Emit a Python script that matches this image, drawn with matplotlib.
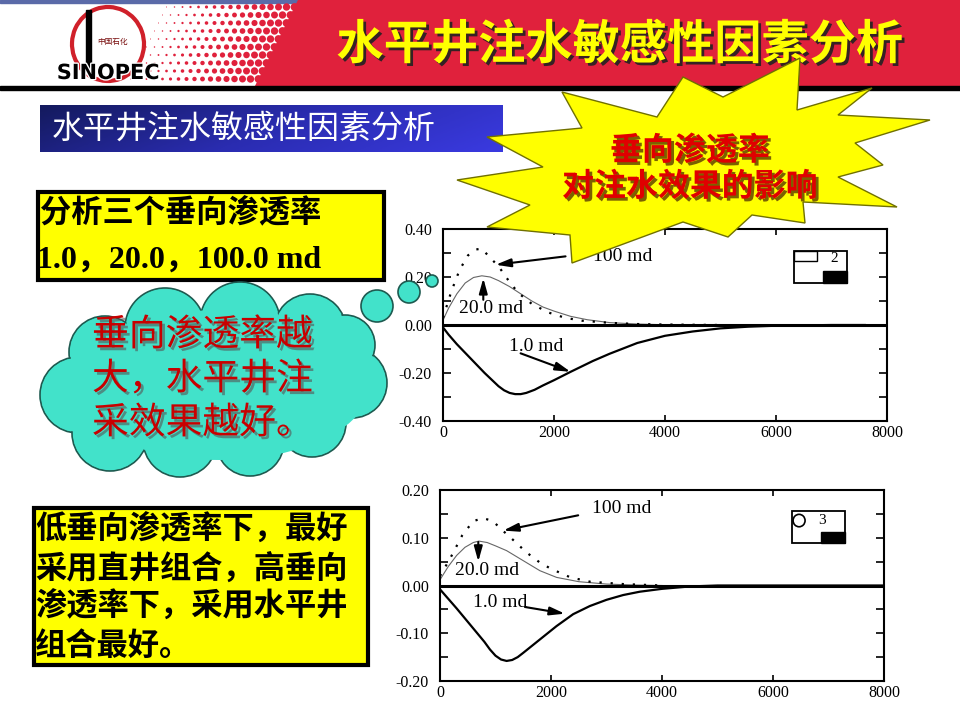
import numpy as np
import matplotlib.pyplot as plt
from matplotlib import patches, patheffects
from matplotlib.colors import LinearSegmentedColormap

plt.rcParams['font.family'] = ['Noto Sans CJK SC', 'DejaVu Sans']

# ---- données (x = temps/jours, y = variation) ----
x_ticks = [0, 2000, 4000, 6000, 8000]
x_labels = ['0', '2000', '4000', '6000', '8000']

# graphique 1 (cas 2)
g1_yticks = [-0.40, -0.20, 0.00, 0.20, 0.40]
g1_ylabels = ['-0.40', '-0.20', '0.00', '0.20', '0.40']
g1_yminor = [-0.3, -0.1, 0.1, 0.3]
g1_x_1md = [0, 100, 250, 500, 750, 1000, 1100, 1200, 1300, 1400, 1500, 1650, 1800,
            2000, 2300, 2700, 3000, 3500, 4000, 4500, 5000, 5500, 6000, 7000, 7600]
g1_y_1md = [-0.01, -0.04, -0.08, -0.14, -0.20, -0.255, -0.272, -0.283, -0.288, -0.288,
            -0.283, -0.27, -0.252, -0.23, -0.195, -0.15, -0.12, -0.075, -0.045, -0.027,
            -0.014, -0.007, -0.003, 0.0, 0.0]
g1_x_20md = [0, 100, 250, 400, 550, 700, 850, 1000, 1200, 1400, 1600, 1800, 2000,
             2300, 2600, 3000, 3500, 4000, 5000]
g1_y_20md = [0.02, 0.07, 0.13, 0.175, 0.198, 0.205, 0.200, 0.185, 0.16, 0.13, 0.10,
             0.075, 0.058, 0.036, 0.022, 0.010, 0.004, 0.001, 0.0]
g1_x_100md = [0, 150, 300, 450, 600, 700, 850, 1000, 1150, 1350, 1600, 1900, 2200,
              2500, 3000, 3500, 4000, 5000]
g1_y_100md = [0.03, 0.14, 0.23, 0.29, 0.315, 0.318, 0.28, 0.245, 0.195, 0.135, 0.088,
              0.052, 0.03, 0.018, 0.009, 0.004, 0.002, 0.0]

# graphique 2 (cas 3)
g2_yticks = [-0.20, -0.10, 0.00, 0.10, 0.20]
g2_ylabels = ['-0.20', '-0.10', '0.00', '0.10', '0.20']
g2_yminor = [-0.15, -0.05, 0.05, 0.15]
g2_x_1md = [0, 300, 600, 800, 900, 1000, 1100, 1200, 1300, 1400, 1500, 1800, 2100,
            2400, 2700, 3000, 3300, 3600, 4000, 4500, 5000, 6000, 8000]
g2_y_1md = [-0.008, -0.048, -0.09, -0.118, -0.134, -0.147, -0.155, -0.158, -0.156,
            -0.150, -0.141, -0.113, -0.085, -0.060, -0.043, -0.030, -0.020, -0.013,
            -0.007, -0.002, 0.0, 0.0, 0.0]
g2_x_20md = [0, 150, 300, 450, 600, 700, 850, 1000, 1200, 1500, 1800, 2100, 2500,
             3000, 3500, 4000]
g2_y_20md = [0.012, 0.04, 0.063, 0.08, 0.09, 0.093, 0.09, 0.083, 0.073, 0.052, 0.031,
             0.017, 0.008, 0.003, 0.001, 0.0]
g2_x_100md = [0, 180, 400, 600, 780, 950, 1150, 1350, 1550, 1800, 2000, 2350, 2700,
              3300, 4000]
g2_y_100md = [0.02, 0.056, 0.105, 0.135, 0.141, 0.135, 0.113, 0.092, 0.07, 0.048,
              0.035, 0.017, 0.008, 0.003, 0.0]

titre = '水平井注水敏感性因素分析'
etoile_txt = ['垂向渗透率', '对注水效果的影响']
boite1_txt = ['分析三个垂向渗透率', '1.0，20.0，100.0 md']
nuage_txt = ['垂向渗透率越', '大，水平井注', '采效果越好。']
boite2_txt = ['低垂向渗透率下，最好', '采用直井组合，高垂向', '渗透率下，采用水平井', '组合最好。']

serif = ['Liberation Serif', 'Noto Sans CJK SC']
fleche = dict(arrowstyle='-|>,head_length=0.9,head_width=0.25', color='black', lw=1.5,
              shrinkA=0, shrinkB=0)


def ombre(col='#333333', a=0.8):
    return [patheffects.withSimplePatchShadow(offset=(2, -2), shadow_rgbFace=col, alpha=a)]


# Fonction pour tracer un graphique
def trace(ax, x1, y1, x20, y20, x100, y100, yt, yl, ym, ymax):
    ax.plot(x1, y1, color='black', lw=1.6)
    ax.plot(x20, y20, color='#666666', lw=0.8)
    ax.plot(x100, y100, color='black', lw=1.6, linestyle=(0, (1, 4)))
    ax.axhline(0, color='black', lw=2.2)
    ax.set_xlim(0, 8000)
    ax.set_ylim(-ymax, ymax)
    ax.set_xticks(x_ticks)
    ax.set_xticklabels(x_labels)
    ax.set_yticks(yt)
    ax.set_yticklabels(yl)
    ax.set_yticks(ym, minor=True)
    ax.tick_params(axis='both', which='both', direction='in', length=6, width=1.2,
                   right=True, top=True, labelsize=11.5, labelfontfamily='Liberation Serif')
    ax.tick_params(axis='x', pad=3, length=4)
    ax.tick_params(axis='y', pad=8)
    for s in ax.spines.values():
        s.set_linewidth(1.5)


fig = plt.figure(figsize=(9.6, 7.2), dpi=100)

ax1 = fig.add_axes([443 / 960, 1 - 421 / 720, 444 / 960, 192 / 720])
trace(ax1, g1_x_1md, g1_y_1md, g1_x_20md, g1_y_20md, g1_x_100md, g1_y_100md,
      g1_yticks, g1_ylabels, g1_yminor, 0.4)
ax1.text(2700, 0.286, '100 md', family=serif, fontsize=14, va='center')
ax1.annotate('', xy=(948, 0.251), xytext=(2208, 0.286), arrowprops=fleche)
ax1.text(288, 0.07, '20.0 md', family=serif, fontsize=14, va='center')
ax1.annotate('', xy=(726, 0.195), xytext=(726, 0.105), arrowprops=fleche)
ax1.text(1188, -0.091, '1.0 md', family=serif, fontsize=14, va='center')
ax1.annotate('', xy=(2298, -0.195), xytext=(1398, -0.118), arrowprops=fleche)
ax1.add_patch(patches.Rectangle((6320, 0.175), 960, 0.135, fill=False, lw=1.3))
ax1.add_patch(patches.Rectangle((6320, 0.265), 420, 0.045, fill=False, lw=1))
ax1.add_patch(patches.Rectangle((6850, 0.175), 430, 0.048, color='black'))
ax1.text(6980, 0.275, '2', family=serif, fontsize=11, va='center')

ax2 = fig.add_axes([440 / 960, 1 - 681 / 720, 444 / 960, 191 / 720])
trace(ax2, g2_x_1md, g2_y_1md, g2_x_20md, g2_y_20md, g2_x_100md, g2_y_100md,
      g2_yticks, g2_ylabels, g2_yminor, 0.2)
ax2.text(2730, 0.161, '100 md', family=serif, fontsize=14, va='center')
ax2.annotate('', xy=(1140, 0.115), xytext=(2490, 0.147), arrowprops=fleche)
ax2.text(270, 0.031, '20.0 md', family=serif, fontsize=14, va='center')
ax2.annotate('', xy=(690, 0.050), xytext=(690, 0.091), arrowprops=fleche)
ax2.text(588, -0.035, '1.0 md', family=serif, fontsize=14, va='center')
ax2.annotate('', xy=(2250, -0.059), xytext=(1530, -0.045), arrowprops=fleche)
ax2.add_patch(patches.Rectangle((6350, 0.088), 940, 0.068, fill=False, lw=1.3))
ax2.add_patch(patches.Ellipse((6470, 0.136), 216, 0.026, fill=False, lw=1.2))
ax2.add_patch(patches.Rectangle((6870, 0.088), 420, 0.024, color='black'))
ax2.text(6810, 0.136, '3', family=serif, fontsize=11, va='center')

# ---- décor de la diapo (coordonnées en pixels) ----
ov = fig.add_axes([0, 0, 1, 1], zorder=5)
ov.axis('off')

# bandeau rouge
rouge = '#E0213C'
ov.add_patch(patches.Rectangle((0, 0), 960, 3, color='#5a6aa8'))
ov.add_patch(patches.Polygon([(298, 0), (960, 0), (960, 86), (255, 86)], color=rouge))
for i, hx in enumerate(np.arange(170, 300, 8)):
    r = 0.5 + 3.4 * i / 16
    for hy in np.arange(7, 84, 8):
        ov.add_patch(patches.Circle((hx - 0.5 * hy, hy), r, color=rouge, lw=0))
ov.add_patch(patches.Rectangle((0, 86), 960, 3.5, color='black'))

# logo
ov.add_patch(patches.Arc((108, 44), 72, 74, theta1=-200, theta2=160, color='#D0202A', lw=3))
ov.add_patch(patches.Rectangle((86, 10), 5, 60, color='black'))
ov.text(112, 42, '中国石化', fontsize=5.5, color='#7a1010', ha='center', va='center')
ov.text(108, 73, 'SINOPEC', fontsize=15, weight='bold', ha='center', va='center',
        family='DejaVu Sans', color='black',
        path_effects=[patheffects.withStroke(linewidth=2, foreground='white')])

ov.text(620, 45, titre, fontsize=34, weight='bold', color='#FFFF00', ha='center',
        va='center', path_effects=ombre('#222222', 0.9))

# boîte bleue
grad = np.linspace(0, 1, 200)[None, :] * 0.8 + np.linspace(0, 1, 20)[:, None] * 0.2
cm = LinearSegmentedColormap.from_list('bleu', ['#141a5e', '#2a2cb0', '#3a3ae0'])
ov.imshow(grad, extent=(40, 503, 152, 105), cmap=cm, aspect='auto', zorder=1)
ov.text(52, 129, titre, fontsize=23, color='white', va='center', zorder=2)

# étoile
etoile = [(800, 58), (797, 110), (872, 88), (838, 115), (930, 120), (855, 143),
          (883, 165), (838, 177), (897, 207), (803, 202), (805, 223), (752, 215),
          (728, 237), (683, 222), (572, 263), (570, 235), (487, 227), (530, 205),
          (457, 180), (543, 167), (487, 137), (582, 128), (562, 92), (657, 117),
          (683, 77), (723, 97)]
ov.add_patch(patches.Polygon(etoile, facecolor='#FFFF00', edgecolor='#707000', lw=1, zorder=3))
ov.text(690, 151, etoile_txt[0], fontsize=23, weight='bold', color='#E00000', ha='center',
        va='center', zorder=4, path_effects=ombre('#5a3a00', 0.8))
ov.text(690, 187, etoile_txt[1], fontsize=23, weight='bold', color='#E00000', ha='center',
        va='center', zorder=4, path_effects=ombre('#5a3a00', 0.8))

# boîte jaune 1
ov.add_patch(patches.Rectangle((38, 192), 346, 88, facecolor='#FFFF00', edgecolor='black',
                               lw=3, zorder=3))
ov.text(40, 213, boite1_txt[0], fontsize=22.5, weight='bold', va='center', zorder=4)
ov.text(37, 260, boite1_txt[1], fontsize=23, weight='bold', va='center', family=serif, zorder=4)

# nuage
cyan = '#42E2CA'
bosses = [(165, 328, 40), (240, 322, 40), (310, 330, 36), (105, 352, 36), (78, 395, 38),
          (110, 433, 38), (180, 440, 37), (250, 442, 34), (312, 423, 34), (352, 383, 35),
          (345, 345, 30), (377, 306, 16), (409, 292, 11), (432, 281, 6)]
for cx, cy, r in bosses:
    ov.add_patch(patches.Circle((cx, cy), r, facecolor=cyan, edgecolor='#1e5a50', lw=1.2,
                                zorder=3))
for cx, cy, r in bosses[:11]:
    ov.add_patch(patches.Circle((cx, cy), r - 1.2, facecolor=cyan, lw=0, zorder=3.5))
ov.add_patch(patches.Ellipse((220, 385), 300, 150, facecolor=cyan, lw=0, zorder=3.5))
for k, ligne in enumerate(nuage_txt):
    ov.text(92, 335 + 44 * k, ligne, fontsize=26.5, weight='medium', color='#C80000',
            va='center', zorder=4, path_effects=ombre('#555555', 0.6))

# boîte jaune 2
ov.add_patch(patches.Rectangle((34, 508), 334, 157, facecolor='#FFFF00', edgecolor='black',
                               lw=3, zorder=3))
for k, ligne in enumerate(boite2_txt):
    ov.text(35, 530 + 38.5 * k, ligne, fontsize=22.5, weight='bold', va='center', zorder=4)

ov.set_xlim(0, 960)
ov.set_ylim(720, 0)

fig.savefig('out.png', dpi=100)
